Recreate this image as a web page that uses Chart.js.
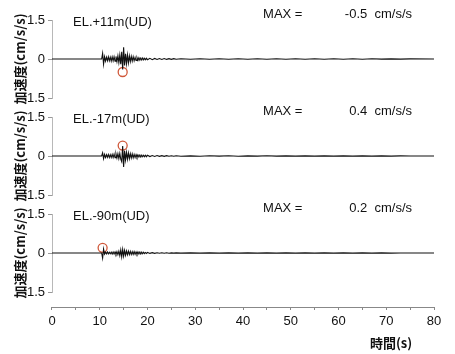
<!DOCTYPE html>
<html>
<head>
<meta charset="utf-8">
<script src="https://cdn.jsdelivr.net/npm/chart.js@4/dist/chart.umd.min.js"></script>
<style>
  html, body { margin: 0; padding: 0; background: #fff; }
  #wrap { width: 455px; height: 354px; }
</style>
</head>
<body>
<div id="wrap"><canvas id="accelChart" width="455" height="354"></canvas></div>
<script>
// time (s)
const times = [
  0,
  10.4, 10.6, 10.8, 11.0, 11.2, 11.4, 11.6, 11.8, 12.0, 12.2,
  12.4, 12.6, 12.8, 13.0, 13.2, 13.4, 13.6, 13.8, 14.0, 14.2,
  14.4, 14.6, 14.8, 15.0, 15.2, 15.4, 15.6, 15.8, 16.0, 16.2,
  16.4, 16.6, 16.8, 17.0, 17.2, 17.4, 17.6, 17.8, 18.0, 18.2,
  18.4, 18.6, 18.8, 19.0, 19.2, 19.4, 19.6, 19.8, 20.0,
  20.5, 21, 21.5, 22, 22.5, 23, 23.5, 24, 24.5, 25, 25.5, 26,
  27, 29, 31, 33, 35, 37, 39, 41, 43, 45, 47, 49, 51,
  53, 55, 57, 59, 61, 63, 65, 67, 69, 71, 73, 75,
  80
];

// acceleration (cm/s/s), EL.+11m
const accelP11 = [
  0,
  0, 0.22, -0.2, 0.09, -0.08, 0.07, -0.07, 0.08, -0.07, 0.07,
  -0.08, 0.08, -0.07, 0.09, -0.08, 0.1, -0.1, 0.12, -0.14, 0.15,
  -0.2, 0.28, -0.4, 0.45, -0.25, 0.2, -0.18, 0.16, -0.15, 0.12,
  -0.1, 0.1, -0.08, 0.09, -0.07, 0.06, -0.06, 0.05, -0.05, 0.05,
  -0.04, 0.04, -0.04, 0.04, -0.03, 0.03, -0.03, 0.03, -0.03,
  0.025, -0.025, 0.02, -0.02, 0.02, -0.015, 0.02, -0.015, 0.015, -0.015, 0.015, -0.012,
  0.01, -0.008, 0.01, -0.01, 0.008, -0.01, 0.01, -0.008, 0.01, -0.01, 0.008, -0.01, 0.01,
  -0.008, 0.01, -0.01, 0.008, -0.01, 0.01, -0.008, 0.008, -0.006, 0.006, -0.005, 0.003,
  0
];

// EL.-17m
const accelM17 = [
  0,
  0, 0.12, -0.1, 0.06, -0.06, 0.05, -0.05, 0.06, -0.06, 0.05,
  -0.06, 0.06, -0.06, 0.07, -0.07, 0.08, -0.08, 0.09, -0.1, 0.1,
  -0.12, -0.22, 0.38, -0.42, 0.2, -0.15, 0.14, -0.12, 0.12, -0.1,
  0.09, -0.08, 0.08, -0.07, 0.06, -0.06, 0.05, -0.05, 0.04, -0.04,
  0.04, -0.04, 0.03, -0.03, 0.03, -0.03, 0.03, -0.03, 0.03,
  -0.02, 0.02, -0.018, 0.018, -0.015, 0.015, -0.012, 0.012, -0.01, 0.01, -0.01, 0.01,
  -0.008, 0.006, -0.008, 0.008, -0.006, 0.008, -0.008, 0.006, -0.006, 0.008, -0.006, 0.006, -0.006,
  0.006, -0.006, 0.006, -0.006, 0.006, -0.006, 0.005, -0.005, 0.004, -0.004, 0.003, 0,
  0
];

// EL.-90m
const accelM90 = [
  0,
  0, -0.2, 0.15, -0.04, 0.03, -0.03, 0.04, -0.03, 0.03, -0.03,
  0.03, -0.04, 0.04, -0.04, 0.04, -0.05, 0.05, -0.06, 0.07, -0.1,
  0.12, -0.15, 0.14, -0.12, 0.1, -0.09, 0.08, -0.07, 0.07, -0.06,
  0.06, -0.06, 0.05, -0.05, 0.05, -0.05, 0.04, -0.05, 0.04, -0.04,
  0.04, -0.04, 0.03, -0.03, 0.03, -0.02, 0.02, -0.02, 0.02,
  -0.015, 0.012, -0.012, 0.01, -0.01, 0.008, -0.008, 0.008, -0.008, 0.006, -0.006, 0.006,
  -0.005, 0.005, -0.005, 0.005, -0.005, 0.005, -0.005, 0.005, -0.005, 0.005, -0.005, 0.005, -0.005,
  0.005, -0.005, 0.005, -0.005, 0.004, -0.004, 0.004, -0.004, 0.003, -0.003, 0.002, 0,
  0
];

const stations = ['EL.+11m(UD)', 'EL.-17m(UD)', 'EL.-90m(UD)'];
const maxValues = [-0.5, 0.4, 0.2];
const maxTimes = [14.8, 14.8, 10.6];
const yTicks = [-1.5, 0, 1.5];
const xTicks = [0, 5, 10, 15, 20, 25, 30, 35, 40, 45, 50, 55, 60, 65, 70, 75, 80];

const traces = [accelP11, accelM17, accelM90];
const panelAxes = ['y1', 'y2', 'y3'];
const latin = '"Liberation Sans", Arial, sans-serif';
const cjk = '"Noto Sans CJK JP", sans-serif';

function panelAxis() {
    return {
        type: 'linear',
        position: 'left',
        stack: 'panels',
        stackWeight: 78,
        min: -1.5,
        max: 1.5,
        afterBuildTicks: s => { s.ticks = yTicks.map(v => ({ value: v })); },
        afterFit: s => { s.width = 52; },
        border: { color: '#b8b8b8' },
        grid: { drawOnChartArea: false, tickLength: 4, color: '#999' },
        ticks: { padding: 3, color: '#111', font: { family: latin, size: 13 } },
        title: {
            display: true,
            text: '加速度(cm/s/s)',
            color: '#111',
            padding: { top: 12, bottom: 0 },
            font: { family: cjk, size: 13, weight: 'bold' }
        }
    };
}

function spacer(w) {
    return { type: 'linear', position: 'left', stack: 'panels', stackWeight: w, display: false };
}

const datasets = [];
traces.forEach((tr, i) => {
    datasets.push({
        type: 'line',
        data: times.map((t, k) => ({ x: t, y: tr[k] })),
        yAxisID: panelAxes[i],
        borderColor: '#111',
        borderWidth: 1.1,
        pointRadius: 0,
        tension: 0
    });
    datasets.push({
        type: 'scatter',
        data: [{ x: maxTimes[i], y: maxValues[i] }],
        yAxisID: panelAxes[i],
        pointRadius: 4.5,
        borderWidth: 1.3,
        borderColor: '#d0583a',
        backgroundColor: 'rgba(0,0,0,0)'
    });
});

const panelText = {
    id: 'panelText',
    afterDatasetsDraw(chart) {
        const ctx = chart.ctx;
        const x = chart.scales.x;
        ctx.save();
        ctx.font = '13px ' + latin;
        ctx.fillStyle = '#111';
        ctx.textBaseline = 'middle';
        panelAxes.forEach((id, i) => {
            const y = chart.scales[id];
            ctx.textAlign = 'left';
            ctx.fillText(stations[i], x.getPixelForValue(4.4), y.getPixelForValue(1.42));
            ctx.fillText('MAX =', x.getPixelForValue(44.2), y.getPixelForValue(1.7));
            ctx.textAlign = 'right';
            ctx.fillText(maxValues[i] + '  cm/s/s', x.getPixelForValue(75.4), y.getPixelForValue(1.7));
        });
        ctx.restore();
    }
};

new Chart(document.getElementById('accelChart'), {
    type: 'line',
    data: { datasets },
    options: {
        responsive: false,
        animation: false,
        devicePixelRatio: 1,
        layout: { padding: { left: 0, right: 21, top: 20, bottom: 0 } },
        plugins: { legend: { display: false }, tooltip: { enabled: false } },
        scales: {
            x: {
                type: 'linear',
                min: 0,
                max: 80,
                afterBuildTicks: s => { s.ticks = xTicks.map(v => ({ value: v })); },
                afterFit: s => { s.height = 47; },
                border: { color: '#888' },
                grid: { drawOnChartArea: false, tickLength: 3, color: '#888' },
                ticks: {
                    autoSkip: false,
                    maxRotation: 0,
                    padding: 4,
                    color: '#111',
                    font: { family: latin, size: 13 },
                    callback: v => v % 10 === 0 ? v : ''
                },
                title: {
                    display: true,
                    text: '時間(s)\u3000   ',
                    align: 'end',
                    color: '#111',
                    padding: { top: 4, bottom: 3 },
                    font: { family: cjk, size: 13, weight: 'bold' }
                }
            },
            g3: spacer(15),
            y3: panelAxis(),
            g2: spacer(19),
            y2: panelAxis(),
            g1: spacer(19),
            y1: panelAxis()
        }
    },
    plugins: [panelText]
});
</script>
</body>
</html>
